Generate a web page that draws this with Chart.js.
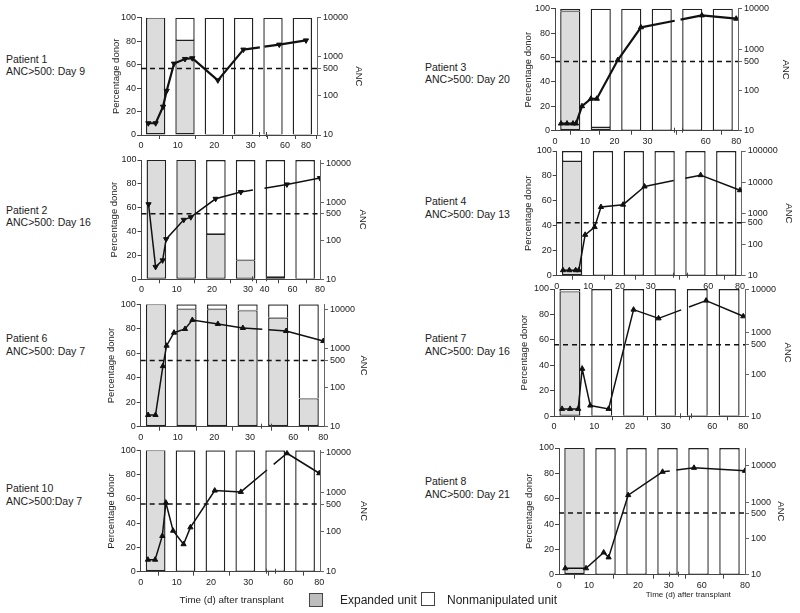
<!DOCTYPE html>
<html>
<head>
<meta charset="utf-8">
<script src="https://cdn.jsdelivr.net/npm/chart.js@4.4.1/dist/chart.umd.min.js"></script>
<style>
  body { margin: 0; background: #fff; width: 800px; height: 613px; position: relative; overflow: hidden;
         font-family: "Liberation Sans", Arial, sans-serif; color: #222; }
  canvas { position: absolute; }
  .lbl { position: absolute; font-size: 10.5px; line-height: 12.7px; white-space: nowrap; }
  .axt { position: absolute; white-space: nowrap; transform: translateX(-50%); }
  .key { position: absolute; width: 14px; height: 14px; border: 1px solid #444; box-sizing: border-box; }
  .keyt { position: absolute; font-size: 12px; line-height: 12px; white-space: nowrap; }
</style>
</head>
<body>
<script>
// bar samples (6 chimerism samples per patient)
const sampleLabels = ['1', '2', '3', '4', '5', '6'];
const xTicks = [0, 10, 20, 30, 60, 80];
const xTicksP2 = [0, 10, 20, 30, 40, 60, 80];
const ancTicks = [10, 100, 500, 1000, 10000];
const ancTicksP4 = [10, 100, 500, 1000, 10000, 100000];
const ancThreshold = 500;

// Patient 1
const p1Days = [2, 4, 6, 7, 9, 12, 14, 21, 28, 55, 80];
const p1Anc = [20, 20, 53, 135, 670, 880, 920, 250, 1530, 2050, 2630];
const p1Expanded = [100, 81, 0, 0, 0, 0];
// Patient 2
const p2Days = [2, 4, 6, 7, 12, 14, 21, 28, 56, 80];
const p2Anc = [890, 21, 31, 110, 350, 410, 1230, 1840, 2900, 4250];
const p2Expanded = [100, 100, 38, 16, 2, 0];
// Patient 6
const p6Days = [2, 4, 6, 7, 9, 12, 14, 21, 28, 55, 80];
const p6Anc = [20, 20, 360, 1210, 2610, 3250, 5530, 4370, 3440, 2880, 1590];
const p6Expanded = [100, 96, 96, 95, 89, 23];
// Patient 10
const p10Days = [2, 4, 6, 7, 9, 12, 14, 21, 28, 59, 80];
const p10Anc = [20, 20, 79, 540, 107, 49, 130, 1090, 1010, 9440, 2970];
const p10Expanded = [100, 0, 0, 0, 0, 0];
// Patient 3
const p3Days = [2, 4, 6, 7, 9, 12, 14, 21, 28, 58, 80];
const p3Anc = [15, 15, 15, 15, 40, 61, 61, 547, 3480, 6850, 5680];
const p3Expanded = [98, 3, 0, 0, 0, 0];
// Patient 4
const p4Days = [2, 4, 6, 7, 9, 12, 14, 21, 28, 56, 80];
const p4Anc = [15, 15, 15, 15, 205, 362, 1600, 1900, 7250, 16800, 5520];
const p4Expanded = [92, 0, 0, 0, 0, 0];
// Patient 7
const p7Days = [2, 4, 6, 7, 9, 14, 21, 28, 56, 80];
const p7Anc = [15, 15, 15, 134, 18, 15, 3400, 2110, 5570, 2360];
const p7Expanded = [98, 0, 0, 0, 0, 0];
// Patient 8
const p8Days = [2, 9, 13, 14, 18, 28, 53, 80];
const p8Anc = [15, 15, 41, 30, 1560, 6840, 8810, 7280];
const p8Expanded = [100, 0, 0, 0, 0, 0];

// layout of each small plot: box = [left, right, top, bottom] of the plot area
const panels = [
  { name: 'Patient 1', note: 'ANC>500: Day 9', days: p1Days, anc: p1Anc, expanded: p1Expanded, ticks: xTicks, yTicks: ancTicks,
    tickPx: [141, 177.7, 214.2, 250.7, 285, 306], box: [141, 317, 17.7, 135], titleL: 117, titleR: 358,
    gap: [38, 42], down: true, lw: 2.2, ancMax: 10000, tx: 6, ty: 52.5 },
  { name: 'Patient 2', note: 'ANC>500: Day 16', days: p2Days, anc: p2Anc, expanded: p2Expanded, ticks: xTicksP2, yTicks: ancTicks,
    tickPx: [141.5, 176.7, 212, 248, 264.5, 292.5, 320], box: [141.5, 320, 160, 279.3], titleL: 115, titleR: 361.7,
    gap: [33, 40], down: true, lw: 1.5, ancMax: 12500, tx: 6, ty: 203.5 },
  { name: 'Patient 6', note: 'ANC>500: Day 7', days: p6Days, anc: p6Anc, expanded: p6Expanded, ticks: xTicks, yTicks: ancTicks,
    tickPx: [140.7, 177.7, 214.3, 250, 293.3, 323.3], box: [140.7, 324, 304.3, 426.7], titleL: 111.7, titleR: 363.3,
    gap: [38.5, 43], down: false, lw: 1.5, ancMax: 14000, tx: 6, ty: 331.8 },
  { name: 'Patient 10', note: 'ANC>500:Day 7', days: p10Days, anc: p10Anc, expanded: p10Expanded, ticks: xTicks, yTicks: ancTicks,
    tickPx: [140.7, 176.7, 211, 248.3, 288.3, 319.3], box: [140.7, 320, 450.3, 571.7], titleL: 111.7, titleR: 363.3,
    gap: [44, 49], down: false, lw: 1.5, ancMax: 11200, tx: 6, ty: 481.8 },
  { name: 'Patient 3', note: 'ANC>500: Day 20', days: p3Days, anc: p3Anc, expanded: p3Expanded, ticks: xTicks, yTicks: ancTicks,
    tickPx: [555, 585, 614.5, 647.5, 705.8, 736.2], box: [555, 738, 8.7, 130.7], titleL: 528.3, titleR: 785,
    gap: [44, 47], down: false, lw: 2.2, ancMax: 10000, tx: 425, ty: 60.5 },
  { name: 'Patient 4', note: 'ANC>500: Day 13', days: p4Days, anc: p4Anc, expanded: p4Expanded, ticks: xTicks, yTicks: ancTicksP4,
    tickPx: [556.7, 588.3, 620, 650.7, 708.3, 740], box: [556.7, 741.7, 151, 275.7], titleL: 528.3, titleR: 788,
    gap: [42, 48], down: false, lw: 1.5, ancMax: 100000, tx: 425, ty: 195.2 },
  { name: 'Patient 7', note: 'ANC>500: Day 16', days: p7Days, anc: p7Anc, expanded: p7Expanded, ticks: xTicks, yTicks: ancTicks,
    tickPx: [554, 594.3, 630, 665.7, 712.3, 743.3], box: [554, 745, 289, 416.3], titleL: 525, titleR: 786.7,
    gap: [40, 45], down: false, lw: 1.5, ancMax: 10500, tx: 425, ty: 331.8 },
  { name: 'Patient 8', note: 'ANC>500: Day 21', days: p8Days, anc: p8Anc, expanded: p8Expanded, ticks: xTicks, yTicks: ancTicks,
    tickPx: [559.3, 589, 638, 668.7, 701.7, 745], box: [559, 745, 448, 574.7], titleL: 529.3, titleR: 780,
    gap: [31, 37], down: false, lw: 1.5, ancMax: 31000, tx: 425, ty: 475.2 }
];

const AX = '#444';
const TXT = '#222';
const GRAY = '#dcdcdc';
const FAMILY = '"Liberation Sans", Arial, sans-serif';
const TITLE_SIZE = 9.5;
const TITLE_OFF = TITLE_SIZE * 1.2 / 2;

// broken time axis: map a day onto the fraction of the plot width
function pos(p, d) {
  const t = p.ticks, w = p.box[1] - p.box[0];
  const f = p.tickPx.map(v => (v - p.box[0]) / w);
  let i = 0;
  while (i < t.length - 2 && d > t[i + 1]) i++;
  return f[i] + (d - t[i]) * (f[i + 1] - f[i]) / (t[i + 1] - t[i]);
}

// dashed line at ANC 500
const threshold = {
  id: 'threshold',
  afterDatasetsDraw(chart) {
    const { ctx, chartArea: a, scales: { y2 } } = chart;
    const y = y2.getPixelForValue(ancThreshold);
    ctx.save();
    ctx.setLineDash([5, 4]);
    ctx.lineWidth = 1.5;
    ctx.strokeStyle = '#111';
    ctx.beginPath();
    ctx.moveTo(a.left, y);
    ctx.lineTo(a.right, y);
    ctx.stroke();
    ctx.restore();
  }
};

// small marks where the time axis is broken
const axisBreak = {
  id: 'axisBreak',
  afterDraw(chart, args, opts) {
    const { ctx, chartArea: a, scales: { xl } } = chart;
    ctx.save();
    ctx.strokeStyle = AX;
    ctx.lineWidth = 1;
    opts.at.forEach(v => {
      const x = Math.round(xl.getPixelForValue(v)) + 0.5;
      ctx.beginPath();
      ctx.moveTo(x, a.bottom - 3);
      ctx.lineTo(x, a.bottom + 2);
      ctx.stroke();
    });
    ctx.restore();
  }
};

panels.forEach(p => {
  const [left, right, top, bottom] = p.box;
  const plotW = right - left, plotH = bottom - top;
  const cLeft = Math.round(p.titleL - TITLE_OFF);
  const cTop = Math.floor(top) - 8;
  const WL = left - cLeft;
  const cW = Math.ceil(WL + plotW + (p.titleR + TITLE_OFF - right));
  const WR = cW - WL - plotW;
  const padTop = top - cTop;
  const cH = Math.ceil(padTop + plotH + 20);

  const cv = document.createElement('canvas');
  cv.width = cW; cv.height = cH;
  cv.style.left = cLeft + 'px';
  cv.style.top = cTop + 'px';
  document.body.appendChild(cv);

  const lbl = document.createElement('div');
  lbl.className = 'lbl';
  lbl.style.left = p.tx + 'px';
  lbl.style.top = p.ty + 'px';
  lbl.innerHTML = p.name + '<br>' + p.note.replace('>', '&gt;');
  document.body.appendChild(lbl);

  const tickFont = { family: FAMILY, size: 9 };
  const titleFont = { family: FAMILY, size: TITLE_SIZE };

  new Chart(cv.getContext('2d'), {
    type: 'bar',
    data: {
      labels: sampleLabels,
      datasets: [
        {
          type: 'line',
          data: p.days.map((d, i) => ({ x: pos(p, d), y: p.anc[i] })),
          xAxisID: 'xl', yAxisID: 'y2',
          borderColor: '#111', borderWidth: p.lw,
          pointStyle: 'triangle', rotation: p.down ? 180 : 0,
          pointRadius: 3, pointBackgroundColor: '#111', pointBorderColor: '#111', pointBorderWidth: 1,
          tension: 0, order: 0,
          segment: {
            borderDash: ctx => {
              const xs = ctx.chart.scales.xl;
              const g0 = xs.getPixelForValue(pos(p, p.gap[0]));
              const g1 = xs.getPixelForValue(pos(p, p.gap[1]));
              const a = ctx.p0, b = ctx.p1;
              if (a.x >= g0 || b.x <= g1) return undefined;
              const dx = b.x - a.x, L = Math.hypot(dx, b.y - a.y);
              const t0 = (g0 - a.x) / dx, t1 = (g1 - a.x) / dx;
              return [t0 * L, (t1 - t0) * L, L * 2];
            }
          }
        },
        {
          label: 'Expanded unit',
          data: p.expanded,
          xAxisID: 'x', yAxisID: 'y',
          backgroundColor: GRAY, borderColor: '#222', borderSkipped: false,
          borderWidth: { top: 1, left: 1.4, right: 1.4, bottom: 1.4 },
          grouped: false, barPercentage: 0.66, categoryPercentage: 1, stack: 'u', order: 1
        },
        {
          label: 'Nonmanipulated unit',
          data: p.expanded.map(v => 100 - v),
          xAxisID: 'x', yAxisID: 'y',
          backgroundColor: '#fff', borderColor: '#222', borderSkipped: false,
          borderWidth: { top: 1.4, left: 1.4, right: 1.4, bottom: 0.6 },
          grouped: false, barPercentage: 0.66, categoryPercentage: 1, stack: 'u', order: 2
        }
      ]
    },
    options: {
      responsive: false,
      animation: false,
      events: [],
      layout: { padding: { top: padTop, left: 0, right: 0, bottom: cH - 20 - padTop - plotH } },
      plugins: {
        legend: { display: false }, tooltip: { enabled: false },
        axisBreak: { at: [pos(p, p.gap[0]) - 0.005, pos(p, p.gap[1]) + 0.01] }
      },
      scales: {
        x: { type: 'category', display: false, stacked: true, offset: true },
        xl: {
          type: 'linear', position: 'bottom', min: 0, max: 1, offset: false,
          afterFit: s => { s.height = 20; },
          afterBuildTicks: s => { s.ticks = p.ticks.map(d => ({ value: pos(p, d) })); },
          ticks: { autoSkip: false, maxRotation: 0, padding: 1, color: TXT, font: tickFont,
                   callback: (v, i) => String(p.ticks[i]) },
          grid: { drawOnChartArea: false, drawTicks: true, tickLength: 4, color: AX },
          border: { display: true, color: AX, width: 1 }
        },
        y: {
          type: 'linear', position: 'left', min: 0, max: 100, stacked: true,
          afterFit: s => { s.width = WL; },
          ticks: { stepSize: 20, padding: 1, color: TXT, font: tickFont },
          grid: { drawOnChartArea: false, drawTicks: true, tickLength: 4, color: AX },
          border: { display: true, color: AX, width: 1 },
          title: { display: true, text: 'Percentage donor', color: TXT, padding: 0, font: titleFont }
        },
        y2: {
          type: 'logarithmic', position: 'right', min: 10, max: p.ancMax,
          afterFit: s => { s.width = WR; },
          afterBuildTicks: s => { s.ticks = p.yTicks.map(v => ({ value: v })); },
          ticks: { autoSkip: false, padding: 2, color: TXT, font: tickFont, callback: v => String(v) },
          grid: { drawOnChartArea: false, drawTicks: true, tickLength: 4, color: '#666' },
          border: { display: true, color: '#666', width: 1 },
          title: { display: true, text: 'ANC', color: TXT, padding: 0, font: titleFont }
        }
      }
    },
    plugins: [threshold, axisBreak]
  });
});

// shared texts
function addText(cls, txt, x, y, size) {
  const d = document.createElement('div');
  d.className = cls;
  d.textContent = txt;
  d.style.left = x + 'px';
  d.style.top = y + 'px';
  if (size) { d.style.fontSize = size + 'px'; d.style.lineHeight = size + 'px'; }
  document.body.appendChild(d);
  return d;
}
addText('axt', 'Time (d) after transplant', 231.7, 595, 9.8);
addText('axt', 'Time (d) after transplant', 688.3, 591, 8);

const k1 = addText('key', '', 309, 593);
k1.style.background = '#bdbdbd';
addText('keyt', 'Expanded unit', 340, 594);
const k2 = addText('key', '', 421, 592);
k2.style.background = '#fff';
addText('keyt', 'Nonmanipulated unit', 447, 594);
</script>
</body>
</html>
